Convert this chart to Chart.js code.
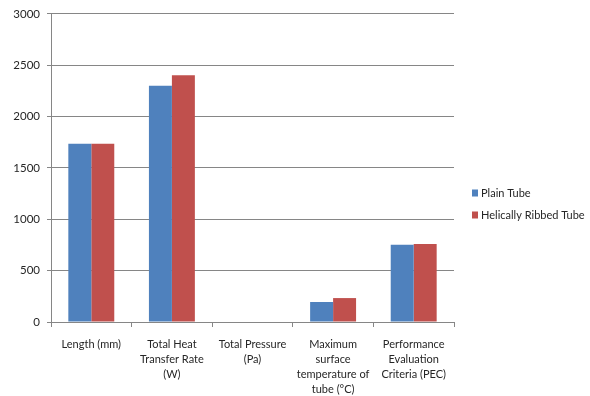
<!DOCTYPE html>
<html>
<head>
<meta charset="utf-8">
<script src="https://cdn.jsdelivr.net/npm/chart.js@4"></script>
<style>
  html, body { margin: 0; padding: 0; background: #fff; }
  #wrap { position: relative; width: 590px; height: 396px; }
</style>
</head>
<body>
<div id="wrap"><canvas id="c" width="590" height="396"></canvas></div>
<script>
const categories = [
  'Length (mm)',
  ['Total Heat', 'Transfer Rate', '(W)'],
  ['Total Pressure', '(Pa)'],
  ['Maximum', 'surface', 'temperature of', 'tube (°C)'],
  ['Performance', 'Evaluation', 'Criteria (PEC)']
];
const plainTube = [1735, 2300, 0, 195, 752];
const ribbedTube = [1735, 2403, 0, 233, 760];
const yTicks = [0, 500, 1000, 1500, 2000, 2500, 3000];

const FONT = 'Lato, "Open Sans", sans-serif';
const TEXT = '#262626';

// Legend drawn to the right of the plot, two stacked entries
const sideLegend = {
  id: 'sideLegend',
  afterDraw(chart) {
    const ctx = chart.ctx;
    ctx.save();
    ctx.font = '11px ' + FONT;
    ctx.textBaseline = 'middle';
    chart.data.datasets.forEach((ds, i) => {
      const y = 193 + i * 22;
      ctx.fillStyle = ds.backgroundColor;
      ctx.fillRect(472, y - 3.5, 6, 7);
      ctx.fillStyle = TEXT;
      ctx.fillText(ds.label, 481, y);
    });
    ctx.restore();
  }
};

new Chart(document.getElementById('c'), {
  type: 'bar',
  data: {
    labels: categories,
    datasets: [
      { label: 'Plain Tube', data: plainTube, backgroundColor: '#4F81BD' },
      { label: 'Helically Ribbed Tube', data: ribbedTube, backgroundColor: '#C0504D' }
    ]
  },
  options: {
    responsive: false,
    animation: false,
    layout: { padding: { top: 12, right: 136, left: 0, bottom: 0 } },
    plugins: { legend: { display: false }, tooltip: { enabled: false } },
    datasets: { bar: { categoryPercentage: 0.57, barPercentage: 1 } },
    scales: {
      x: {
        grid: { display: true, drawOnChartArea: false, offset: true, color: '#868686', tickLength: 5 },
        border: { color: '#868686' },
        ticks: { color: TEXT, font: { family: FONT, size: 11, lineHeight: 1.36 }, maxRotation: 0, autoSkip: false, padding: 10 },
        afterFit(scale) { scale.height = 74; }
      },
      y: {
        min: 0, max: 3000,
        afterBuildTicks(scale) { scale.ticks = yTicks.map(v => ({ value: v })); },
        grid: { color: '#868686', tickLength: 4 },
        border: { color: '#868686' },
        ticks: { color: TEXT, font: { family: FONT, size: 11.5 }, padding: 7, callback: v => String(v) },
        afterFit(scale) { scale.width = 51; }
      }
    }
  },
  plugins: [sideLegend]
});
</script>
</body>
</html>
